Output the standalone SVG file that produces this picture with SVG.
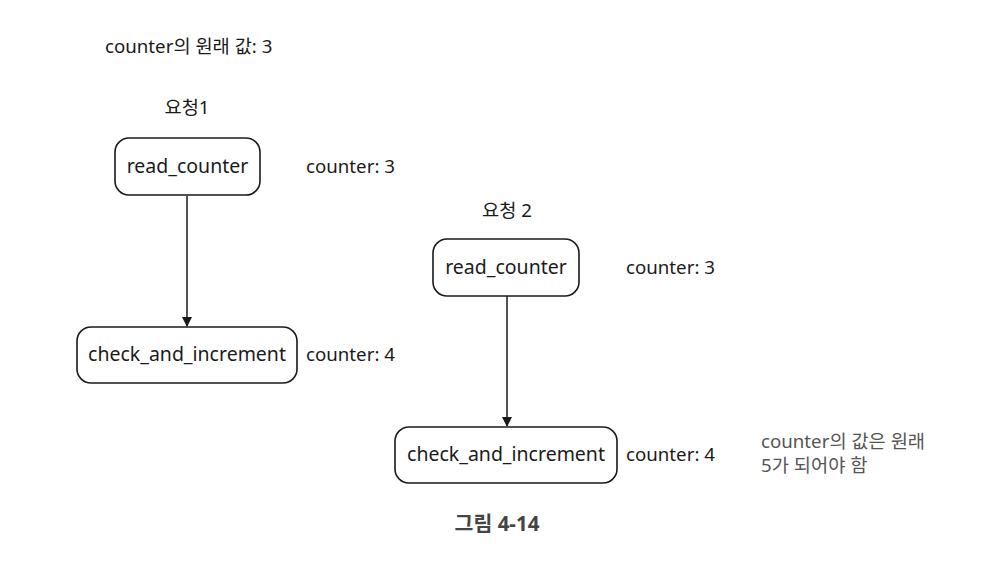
<svg xmlns="http://www.w3.org/2000/svg" width="1000" height="562" viewBox="0 0 1000 562">
<style>
text{font-family:"Noto Sans","Noto Sans CJK KR",sans-serif;fill:#1a1a1a;font-size:18.7px}
.box{fill:#fff;stroke:#1a1a1a;stroke-width:1.6}
.lbl{text-anchor:middle;font-size:19.5px}
.note{fill:#555}
.cap{fill:#444;font-weight:bold;text-anchor:middle;font-size:20.5px}
.edge{stroke:#1a1a1a;stroke-width:1.5;fill:none}
</style>
<defs>
<marker id="ah" markerWidth="10" markerHeight="10" refX="9" refY="5" orient="auto" markerUnits="userSpaceOnUse">
<path d="M0,0 L10,5 L0,10 z" fill="#1a1a1a"/>
</marker>
</defs>
<rect width="1000" height="562" fill="#fff"/>
<text x="105" y="53">counter의 원래 값: 3</text>
<text x="187" y="114" class="lbl" style="font-size:18.7px">요청1</text>
<text x="507" y="217" class="lbl" style="font-size:18.7px">요청 2</text>
<g id="edges">
<line class="edge" x1="187" y1="196" x2="187" y2="326" marker-end="url(#ah)"/>
<line class="edge" x1="507" y1="296" x2="507" y2="426" marker-end="url(#ah)"/>
</g>
<g id="read1">
<rect class="box" x="115" y="138" width="145" height="57" rx="14"/>
<text x="187.5" y="173" class="lbl">read_counter</text>
</g>
<g id="check1">
<rect class="box" x="77" y="327" width="220" height="56" rx="14"/>
<text x="187" y="361" class="lbl">check_and_increment</text>
</g>
<g id="read2">
<rect class="box" x="433" y="239" width="146" height="57" rx="14"/>
<text x="506" y="274" class="lbl">read_counter</text>
</g>
<g id="check2">
<rect class="box" x="395" y="427" width="222" height="56" rx="14"/>
<text x="506" y="461" class="lbl">check_and_increment</text>
</g>
<text x="306" y="173">counter: 3</text>
<text x="306" y="361">counter: 4</text>
<text x="626" y="274">counter: 3</text>
<text x="626" y="461">counter: 4</text>
<text x="761" y="448" class="note">counter의 값은 원래</text>
<text x="761" y="472" class="note">5가 되어야 함</text>
<text x="497" y="531" class="cap">그림 4-14</text>
</svg>
